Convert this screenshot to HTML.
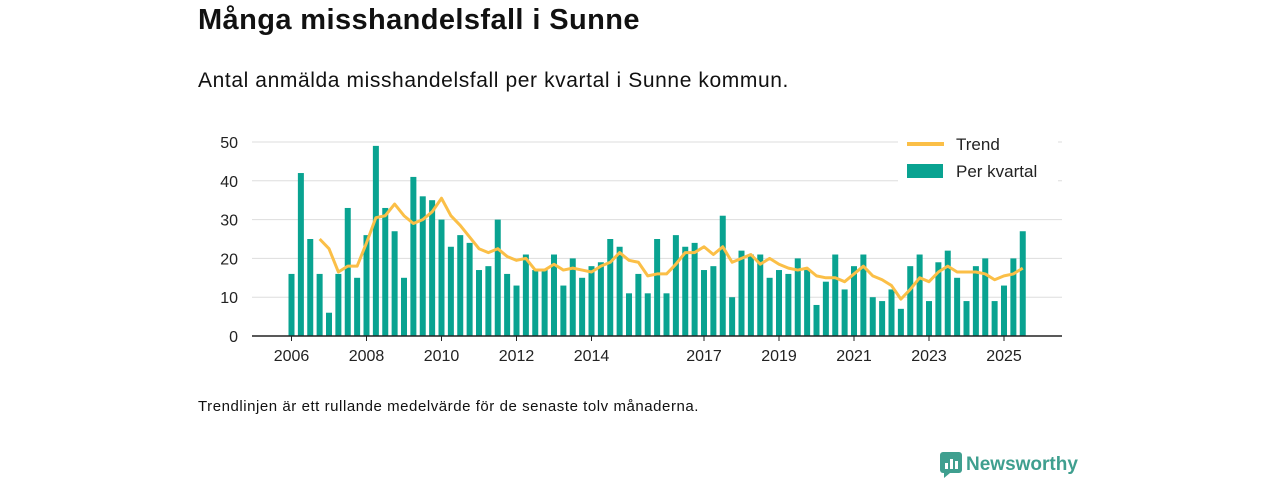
<!DOCTYPE html>
<html><head><meta charset="utf-8"><style>
body{margin:0;width:1280px;height:480px;background:#fff;font-family:"Liberation Sans",sans-serif;overflow:hidden;position:relative}
.t{position:absolute;color:#111;white-space:nowrap}
</style></head><body>
<div class="t" style="left:198px;top:4px;font-size:29px;font-weight:bold;letter-spacing:0.4px">Många misshandelsfall i Sunne</div>
<div class="t" style="left:198px;top:69px;font-size:21px;letter-spacing:0.6px">Antal anmälda misshandelsfall per kvartal i Sunne kommun.</div>
<svg id="c" width="1280" height="480" style="position:absolute;left:0;top:0"></svg>
<div class="t" style="left:198px;top:398px;font-size:15px;letter-spacing:0.55px">Trendlinjen är ett rullande medelvärde för de senaste tolv månaderna.</div>
<div style="position:absolute;left:940px;top:452px;height:26px;display:flex;align-items:center">
<svg width="22" height="26"><rect x="0" y="0" width="22" height="21" rx="3" fill="#3f9f8f"/><polygon points="4,21 10,21 4,26" fill="#3f9f8f"/><rect x="5" y="11" width="3" height="6" fill="#fff"/><rect x="10" y="7" width="3" height="10" fill="#fff"/><rect x="15" y="9" width="3" height="8" fill="#fff"/></svg>
<span style="margin-left:4px;font-size:19px;font-weight:bold;color:#3f9f8f">Newsworthy</span></div>
<script>
const startYear=2006;
const barValues=[16,42,25,16, 6,16,33,15, 26,49,33,27, 15,41,36,35, 30,23,26,24, 17,18,30,16, 13,21,17,17, 21,13,20,15, 18,19,25,23, 11,16,11,25, 11,26,23,24, 17,18,31,10, 22,21,21,15, 17,16,20,17, 8,14,21,12, 18,21,10,9, 12,7,18,21, 9,19,22,15, 9,18,20,9, 13,20,27];
const trendStart=3;
const trendValues=[25,22.5,16.5,18,18,24,30.5,31,34,31,29,30,32,35.5,31,28.5,25.5,22.5,21.5,22.5,20.5,19.5,20,17,17,18.5,17,17.5,17,16.5,18,19,21.5,19.5,19,15.5,16,16,18.5,21.5,21.5,23,21,23,19,20,21,18.5,20,18.5,17.5,17,17.5,15.5,15,15,14,16,18,15.5,14.5,13,9.5,12,15,14,16.5,18,16.5,16.5,16.5,16,14.5,15.5,16,17.5];
const yTicks=[0,10,20,30,40,50];
const xTickYears=[2006,2008,2010,2012,2014,2017,2019,2021,2023,2025];
const NS='http://www.w3.org/2000/svg',svg=document.getElementById('c');
const x0=291.5,step=9.375,y0=336,ppu=3.88;
const X=i=>x0+i*step, Y=v=>y0-v*ppu;
function mk(t,a){const e=document.createElementNS(NS,t);for(const k in a)e.setAttribute(k,a[k]);svg.appendChild(e);return e;}
yTicks.forEach(v=>{
 if(v>0){const g=mk('line',{x1:252,x2:1062,y1:Y(v),y2:Y(v),stroke:'#ddd','stroke-width':1});
 
 }
 const t=mk('text',{x:238,y:Y(v)+6,'text-anchor':'end','font-size':16,fill:'#222','font-family':'Liberation Sans'});
 t.textContent=v;
 
 
});
barValues.forEach((v,i)=>{
 const r=mk('rect',{x:X(i)-3,y:Y(v),width:6,height:v*ppu,fill:'#09a391'});
 
 
});
const ax=mk('line',{x1:252,x2:1062,y1:y0,y2:y0,stroke:'#222','stroke-width':1.5});


xTickYears.forEach(yr=>{
 const xx=X((yr-startYear)*4);
 const tk=mk('line',{x1:xx,x2:xx,y1:y0,y2:y0+5,stroke:'#222'});
 
 
 const t=mk('text',{x:xx,y:y0+25,'text-anchor':'middle','font-size':16,fill:'#222','font-family':'Liberation Sans'});
 t.textContent=yr;
 
 
});
const pl=mk('polyline',{points:trendValues.map((v,i)=>X(i+trendStart)+','+Y(v)).join(' '),fill:'none',stroke:'#fbbf47','stroke-width':3,'stroke-linejoin':'round'});


const lb=mk('rect',{x:898,y:130,width:160,height:56,fill:'#fff'});


const l1=mk('line',{x1:907,x2:944,y1:144,y2:144,stroke:'#fbbf47','stroke-width':4});


const t1=mk('text',{x:956,y:150,'font-size':17,fill:'#222','font-family':'Liberation Sans'});t1.textContent='Trend';


const r2=mk('rect',{x:907,y:164,width:36,height:14,fill:'#09a391'});


const t2=mk('text',{x:956,y:177,'font-size':17,fill:'#222','font-family':'Liberation Sans'});t2.textContent='Per kvartal';


</script>
</body></html>
